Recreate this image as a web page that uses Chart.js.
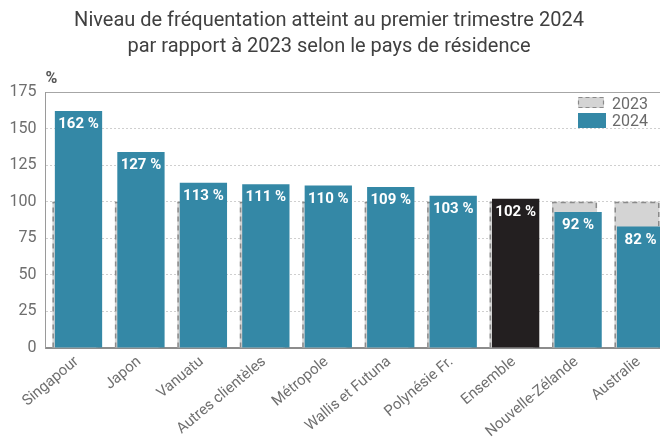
<!DOCTYPE html>
<html><head><meta charset="utf-8">
<script src="https://cdn.jsdelivr.net/npm/chart.js@4/dist/chart.umd.min.js"></script>
<style>
html,body{margin:0;padding:0;background:#fff;overflow:hidden;width:660px;height:444px;}
#wrap{position:absolute;left:-12px;top:0;width:682px;height:444px;}
</style></head><body>
<div id="wrap"><canvas id="c" width="682" height="444"></canvas></div>
<script>
// ---- data ----
const categories = ['Singapour','Japon','Vanuatu','Autres clientèles','Métropole','Wallis et Futuna','Polynésie Fr.','Ensemble','Nouvelle-Zélande','Australie'];
const values2023 = [100,100,100,100,100,100,100,100,100,100];
const values2024 = [162,134,113,112,111,110,104,102,93,83];
const labels2024 = ['162 %','127 %','113 %','111 %','110 %','109 %','103 %','102 %','92 %','82 %'];
const seriesNames = ['2023','2024'];
const yTicks = [0,25,50,75,100,125,150,175];
const titleLines = ['Niveau de fréquentation atteint au premier trimestre 2024','par rapport à 2023 selon le pays de résidence'];
const yUnit = '%';

// ---- styles ----
const TEAL = '#3488a6';
const BLACK = '#231f20';
const GRAY_FILL = '#d4d4d4';
const GRAY_DASH = '#8a8a8a';
const barColors2024 = categories.map(c => c === 'Ensemble' ? BLACK : TEAL);

const grayBars = {
  id: 'grayBars',
  beforeDatasetDraw(chart, args) { if (args.index === 0) return false; },
  beforeDatasetsDraw(chart) {
    const ctx = chart.ctx, area = chart.chartArea;
    const meta = chart.getDatasetMeta(0);
    ctx.save();
    ctx.beginPath(); ctx.rect(area.left, area.top, area.right - area.left, area.bottom - area.top); ctx.clip();
    meta.data.forEach(el => {
      const p = el.getProps(['x','y','base','width'], true);
      const l = p.x - p.width / 2, r = p.x + p.width / 2;
      ctx.fillStyle = GRAY_FILL;
      ctx.fillRect(l, p.y, p.width, p.base - p.y);
      ctx.setLineDash([5,4]);
      ctx.lineWidth = 1.5;
      ctx.strokeStyle = GRAY_DASH;
      ctx.beginPath();
      ctx.moveTo(l + 0.75, p.base); ctx.lineTo(l + 0.75, p.y + 0.75);
      ctx.lineTo(r - 0.75, p.y + 0.75); ctx.lineTo(r - 0.75, p.base);
      ctx.stroke();
    });
    ctx.restore();
  }
};

const extras = {
  id: 'extras',
  afterDatasetsDraw(chart) {
    const ctx = chart.ctx;
    const meta = chart.getDatasetMeta(1);
    ctx.save();
    ctx.fillStyle = '#ffffff';
    ctx.font = 'bold 15px Roboto';
    ctx.textAlign = 'center';
    ctx.textBaseline = 'alphabetic';
    meta.data.forEach((el, i) => {
      const p = el.getProps(['x','y'], true);
      ctx.fillText(labels2024[i], p.x, p.y + 17);
    });
    ctx.restore();
  },
  afterDraw(chart) {
    const ctx = chart.ctx, area = chart.chartArea;
    ctx.save();
    // unit label
    ctx.fillStyle = '#555555';
    ctx.font = 'bold 16px Roboto';
    ctx.textAlign = 'left';
    ctx.textBaseline = 'alphabetic';
    ctx.fillText(yUnit, area.left, 83);
    // legend
    const lx = 590;
    ctx.fillStyle = GRAY_FILL;
    ctx.fillRect(lx, 97, 26, 11);
    ctx.setLineDash([4,3]);
    ctx.lineWidth = 1.2;
    ctx.strokeStyle = GRAY_DASH;
    ctx.strokeRect(lx + 0.5, 97.5, 25, 10);
    ctx.setLineDash([]);
    ctx.fillStyle = TEAL;
    ctx.fillRect(lx, 113, 28, 15);
    ctx.fillStyle = '#6a6a6a';
    ctx.font = '16px Roboto';
    ctx.fillText(seriesNames[0], lx + 34, 109);
    ctx.fillText(seriesNames[1], lx + 34, 126);
    ctx.restore();
  }
};

new Chart(document.getElementById('c'), {
  type: 'bar',
  data: {
    labels: categories,
    datasets: [
      { label: seriesNames[0], data: values2023, backgroundColor: GRAY_FILL, borderWidth: 0,
        categoryPercentage: 0.1137, barPercentage: 12.68 },
      { label: seriesNames[1], data: values2024, backgroundColor: barColors2024, borderWidth: 0,
        categoryPercentage: 0.1137, barPercentage: 13.32 }
    ]
  },
  options: {
    responsive: false,
    animation: false,
    devicePixelRatio: 1,
    layout: { padding: 0 },
    plugins: {
      legend: { display: false },
      tooltip: { enabled: false },
      title: {
        display: true,
        text: titleLines,
        color: '#404040',
        font: { family: 'Roboto', size: 20, weight: 'normal', lineHeight: 1.3 },
        padding: { top: 8, bottom: 32 }
      }
    },
    scales: {
      x: {
        afterFit(s) { s.height = 96; },
        grid: { display: false, drawTicks: false },
        border: { display: true, color: '#8c8c8c', width: 2 },
        ticks: { color: '#6f6f6f', font: { family: 'Roboto', size: 15 }, minRotation: 40, maxRotation: 40, padding: 5, autoSkip: false }
      },
      y: {
        min: 0, max: 175,
        afterFit(s) { s.width = 57.5; },
        afterBuildTicks(s) { s.ticks = yTicks.map(v => ({ value: v })); },
        grid: {
          drawTicks: false,
          color: c => c.tick && c.tick.value === 175 ? '#a6a6a6' : (c.tick && c.tick.value === 0 ? 'rgba(0,0,0,0)' : '#cfcfcf'),
          lineWidth: 1
        },
        border: {
          display: true, color: '#9a9a9a', width: 1,
          dash: c => (c.type === 'tick' && c.tick && c.tick.value > 0 && c.tick.value < 175) ? [2,2] : []
        },
        ticks: { color: '#6e6e6e', font: { family: 'Roboto', size: 16 }, padding: 9 }
      }
    }
  },
  plugins: [grayBars, extras]
});
</script>
</body></html>
